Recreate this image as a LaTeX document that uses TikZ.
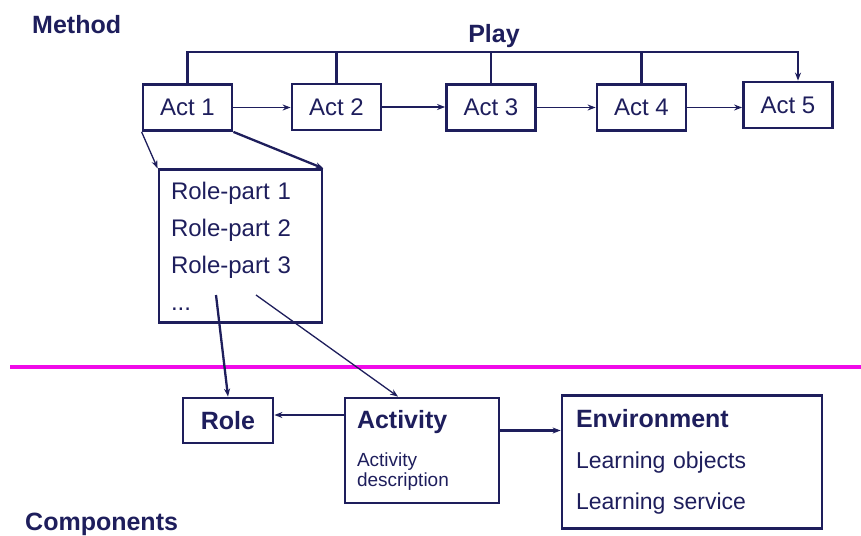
\documentclass[tikz,border=0pt]{standalone}
\usepackage{fontspec}
\setmainfont{Liberation Sans}
\usepackage{tikz}
\usetikzlibrary{arrows.meta, positioning}
\definecolor{methodNavy}{HTML}{1E1E5C}
\definecolor{dividerPink}{HTML}{F00AE8}

\begin{document}
\begin{tikzpicture}[
    x=1pt, y=-1pt,
    >={Stealth[length=8pt,width=6pt]},
    box/.style={draw=methodNavy, line width=2.8pt, text=methodNavy, inner sep=0pt, font=\fontsize{24}{29}\selectfont},
    actbox/.style={box, minimum width=89pt, minimum height=46pt},
    heading/.style={text=methodNavy, font=\bfseries\fontsize{25}{30}\selectfont, inner sep=0pt},
    barline/.style={draw=methodNavy, line width=2.8pt},
    flow/.style={->, draw=methodNavy, line width=1.3pt},
    link/.style={->, draw=methodNavy, line width=2.3pt},
]
    \useasboundingbox (0,0) rectangle (861,535);

    \node[heading, anchor=base west] (method) at (32,34) {Method};
    \node[heading, anchor=base] (play) at (494,42) {Play};
    \coordinate (bar) at (494,52);

    \foreach \i/\x/\y in {1/187.5/107.5, 2/336.5/107, 3/491/107.5, 4/641.5/107.5, 5/788/105}
        \node[actbox] (act\i) at (\x,\y) {Act \i};

    \draw[barline, ->] (act1.north) |- (bar) -| ([xshift=10pt]act5.north);
    \foreach \i in {2,3,4}
        \draw[barline] (act\i.north) -- (act\i.north |- bar);
    \foreach \a/\b in {1/2,2/3,3/4,4/5}
        \draw[flow] (act\a.east) -- (act\a.east -| act\b.west);

    \node[box, minimum width=163pt, minimum height=146pt, text width=139pt, inner sep=12pt, align=left,
          font=\fontsize{24}{37}\selectfont] (roleparts) at (240.5,246) {Role-part 1\\Role-part 2\\Role-part 3\\...};
    \draw[flow] (act1.south west) -- (roleparts.north west);
    \draw[link] (act1.south east) -- (roleparts.north east);

    \draw[dividerPink, line width=4.5pt] (10,367) -- (861,367);

    \node[box, font=\bfseries\fontsize{25}{30}\selectfont, minimum width=90pt, minimum height=45pt] (role) at (228,420.5) {Role};
    \node[box, minimum width=154pt, minimum height=105pt, text width=130pt, inner sep=12pt, align=left,
          font=\fontsize{19}{20}\selectfont] (activity) at (422,450.5)
          {{\bfseries\fontsize{25}{30}\selectfont Activity}\\[18pt]Activity\\description};
    \node[box, minimum width=260pt, minimum height=126pt, text width=232pt, inner sep=14pt, align=left,
          font=\fontsize{23}{41}\selectfont] (environment) at (692,462)
          {{\bfseries\fontsize{25}{30}\selectfont Environment}\\Learning objects\\Learning service};

    \coordinate (rolepick) at (216,295);
    \coordinate (actpick) at (256,295);
    \draw[link] (rolepick) -- (role.north);
    \draw[flow] (actpick) -- ([xshift=-24pt]activity.north);
    \draw[link] ([yshift=5.5pt]role.east -| activity.west) -- ([yshift=5.5pt]role.east);
    \draw[link] ([yshift=20pt]activity.east) -- ([yshift=20pt]activity.east -| environment.west);

    \node[heading, anchor=base west] (components) at (25,530) {Components};
\end{tikzpicture}
\end{document}
